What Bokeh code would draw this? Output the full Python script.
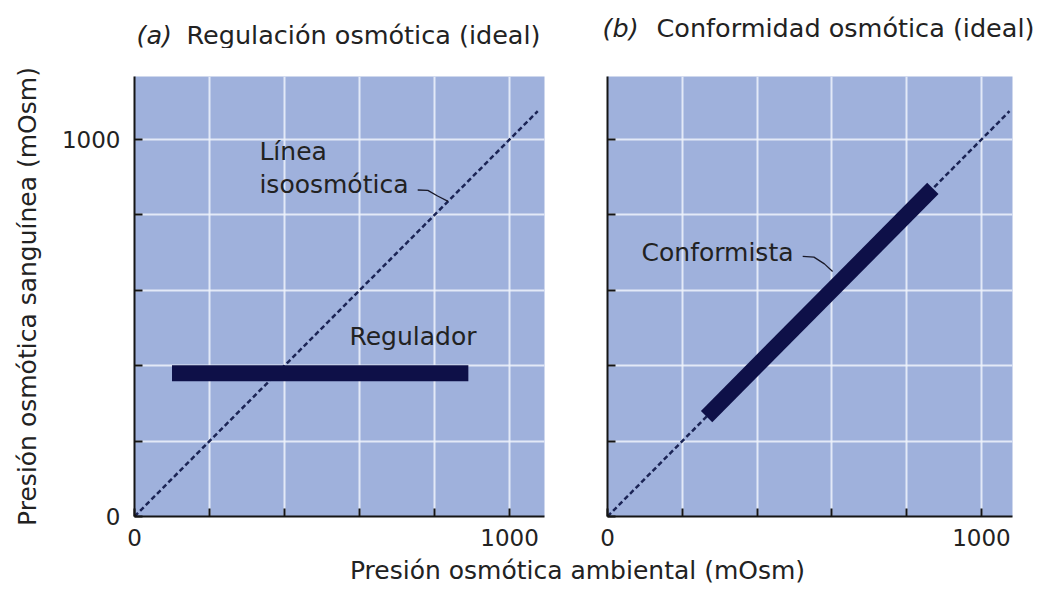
from bokeh.plotting import figure
from bokeh.models import Label, FixedTicker, Range1d
from bokeh.layouts import column, row
from bokeh.embed import file_html
from bokeh.resources import INLINE
from bokeh.core.properties import value

# ---------------- data ----------------
iso_x = [0, 1075]          # isoosmotic line (blood = environment)
iso_y = [0, 1075]
reg_x = [100, 890]         # regulator: constant blood osmolarity
reg_y = [380, 380]
conf_x = [265, 870]        # conformer: follows environment
conf_y = [265, 870]
tick_vals = [0, 200, 400, 600, 800, 1000]
x_tick_labels = {0: "0", 200: "", 400: "", 600: "", 800: "", 1000: "1000"}
y_tick_labels_a = {0: "0", 200: "", 400: "", 600: "", 800: "", 1000: "1000"}
y_tick_labels_b = {0: "", 200: "", 400: "", 600: "", 800: "", 1000: ""}

title_a = ("(a)", "Regulación osmótica (ideal)")
title_b = ("(b)", "Conformidad osmótica (ideal)")
ylabel = "Presión osmótica sanguínea (mOsm)"
xlabel = "Presión osmótica ambiental (mOsm)"

# leader lines of the annotations
lead_a_x = [755, 782, 808, 836]
lead_a_y = [866, 865, 850, 836]
lead_b_x = [522, 552, 580, 602]
lead_b_y = [690, 688, 670, 650]

FONT = "DejaVu Sans"
TXT = "#222222"
BG = "#9fb1dc"
DARK = "#0e1048"
TOTAL_W = 1040


def make_panel(xmax, fw, left, right, ylabels, ytitle=None):
    p = figure(frame_width=fw, frame_height=440,
               x_range=Range1d(0, xmax), y_range=Range1d(0, 1167),
               min_border_left=left, min_border_right=right,
               min_border_top=28, min_border_bottom=39,
               toolbar_location=None, output_backend="svg")
    p.background_fill_color = BG
    p.border_fill_color = "white"
    p.outline_line_color = None
    for ax in (p.xaxis[0], p.yaxis[0]):
        ax.ticker = FixedTicker(ticks=tick_vals)
        ax.axis_line_color = "#151515"
        ax.axis_line_width = 2
        ax.major_tick_in = 8
        ax.major_tick_out = 0
        ax.major_tick_line_color = "#151515"
        ax.major_tick_line_width = 2
        ax.minor_tick_line_color = None
        ax.major_label_text_font = FONT
        ax.major_label_text_font_size = "23px"
        ax.major_label_text_color = TXT
    p.xaxis[0].major_label_overrides = x_tick_labels
    p.xaxis[0].major_label_standoff = 12
    p.yaxis[0].major_label_overrides = ylabels
    p.yaxis[0].major_label_standoff = 14
    if ytitle:
        p.yaxis[0].axis_label = ytitle
        p.yaxis[0].axis_label_text_font = FONT
        p.yaxis[0].axis_label_text_font_size = "25px"
        p.yaxis[0].axis_label_text_font_style = "normal"
        p.yaxis[0].axis_label_text_color = TXT
        p.yaxis[0].axis_label_standoff = 17
    p.grid.ticker = FixedTicker(ticks=tick_vals)
    p.grid.grid_line_color = "#eef3fc"
    p.grid.grid_line_width = 2
    p.grid.grid_line_alpha = 0.85
    p.line(iso_x, iso_y, line_color="#1b2455", line_width=2.5, line_dash="5 3")
    return p


def label(p, x, y, text, size="25px", style="normal"):
    p.add_layout(Label(x=x, y=y, text=text, text_font=FONT, text_font_size=size,
                       text_font_style=style, text_color=TXT,
                       text_align="left", text_baseline="alphabetic"))


def text_strip(h):
    s = figure(frame_width=TOTAL_W, frame_height=h, title=None,
               x_range=Range1d(0, TOTAL_W), y_range=Range1d(0, h),
               x_axis_type=None, y_axis_type=None, min_border=0,
               toolbar_location=None, output_backend="svg")
    s.outline_line_color = None
    s.grid.visible = False
    s.background_fill_color = "white"
    s.border_fill_color = "white"
    return s


def strip_text(s, x, y, txt, style="normal", align="left", size="25.5px"):
    s.text(x=[x], y=[y], text=[txt], text_font=value(FONT), text_font_size=size,
           text_font_style=style, text_color=TXT, text_align=align,
           text_baseline="alphabetic")


# ---------------- titles ----------------
p0 = text_strip(48)
strip_text(p0, 136, 14, title_a[0], style="italic")
strip_text(p0, 186, 14, title_a[1])
strip_text(p0, 602, 21, title_b[0], style="italic")
strip_text(p0, 656, 21, title_b[1])

# ---------------- panel (a) ----------------
p1 = make_panel(1093, 410, 134, 40, y_tick_labels_a, ylabel)
p1.line(reg_x, reg_y, line_color=DARK, line_width=16, line_cap="butt")
p1.line(lead_a_x, lead_a_y, line_color="#1a1a2a", line_width=1.3)
label(p1, 333, 968, "Línea")
label(p1, 333, 880, "isoosmótica")
label(p1, 573, 477, "Regulador")

# ---------------- panel (b) ----------------
p2 = make_panel(1083, 405, 23, 28, y_tick_labels_b)
p2.line(conf_x, conf_y, line_color=DARK, line_width=16, line_cap="butt")
p2.line(lead_b_x, lead_b_y, line_color="#1a1a2a", line_width=1.3)
label(p2, 91, 700, "Conformista")

# ---------------- shared x-axis title ----------------
p3 = text_strip(29)
strip_text(p3, 577, 14, xlabel, align="center", size="25px")

layout = column(p0, row(p1, p2), p3)
open("out.html", "w").write(file_html(layout, INLINE))
